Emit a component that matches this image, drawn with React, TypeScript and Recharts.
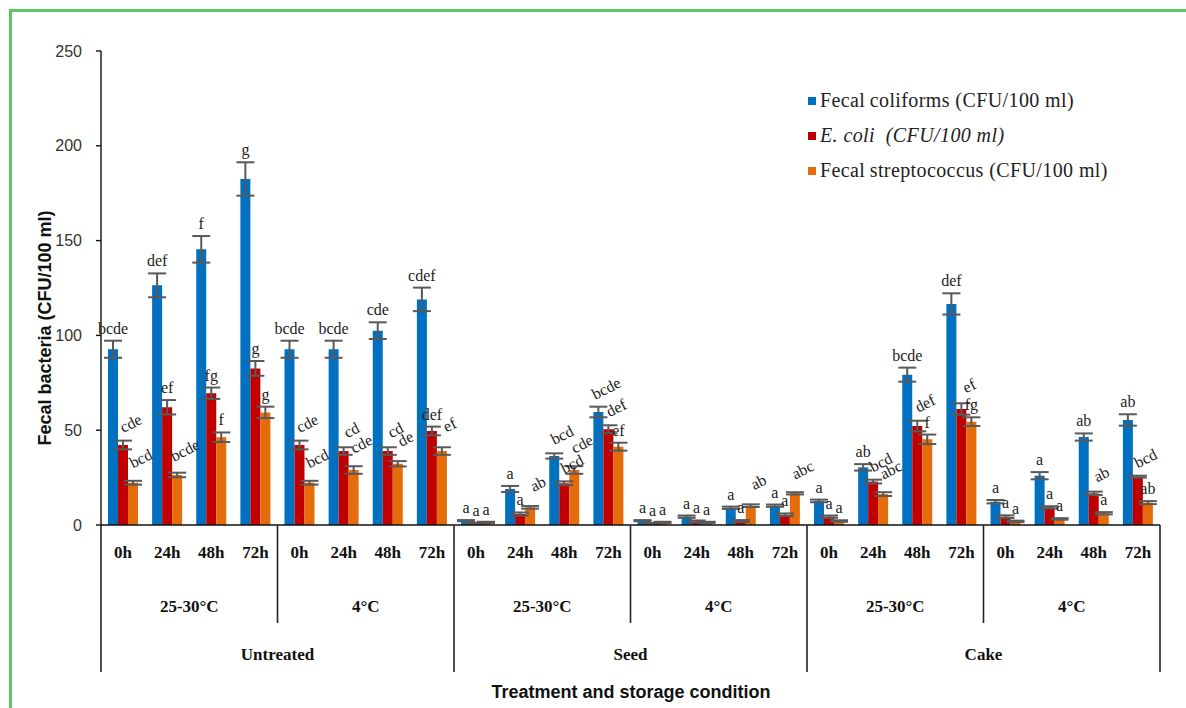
import { Bar, BarChart, ErrorBar, LabelList, Legend, XAxis, YAxis } from "recharts";

const times = ["0h", "24h", "48h", "72h"];
const temps = ["25-30°C", "4°C"];
const treatments = ["Untreated", "Seed", "Cake"];
const yTicks = [0, 50, 100, 150, 200, 250];

// Untreated 25-30 | Untreated 4 | Seed 25-30 | Seed 4 | Cake 25-30 | Cake 4
const fecalColiforms = [92.7, 126.4, 145.4, 182.5, 92.7, 92.7, 102.5, 119, 2.3, 19, 36.4, 59.6, 2.3, 4.4, 9.1, 10.2, 12.7, 30.4, 79.3, 116.6, 12.3, 26, 46.4, 55.4];
const fecalColiformsErr = [4.5, 6.3, 7, 8.8, 4.5, 4.5, 4.4, 6.2, 0.3, 1.6, 1.4, 2.8, 0.3, 0.6, 0.6, 0.6, 0.7, 1.7, 3.7, 5.6, 0.9, 1.9, 1.9, 3];
const eColi = [42.2, 62.1, 69.5, 82.6, 42.2, 39, 39, 49.6, 0.9, 5.8, 22, 50.5, 0.8, 1.9, 2.1, 5.4, 4.4, 22.9, 52.2, 61.2, 4.4, 9.3, 16.7, 25.5];
const eColiErr = [2.3, 3.8, 3, 3.9, 2.3, 2, 2, 2.3, 0.3, 0.8, 1, 2.1, 0.3, 0.5, 0.5, 0.7, 0.6, 1, 2.8, 3, 0.7, 0.6, 0.9, 0.5];
const fecalStrep = [22.3, 26.4, 46.3, 59.4, 22.3, 29, 32.3, 39, 1.4, 9.3, 29, 41.3, 1.4, 1.4, 10.2, 16.7, 2.1, 16.3, 45.2, 54.5, 1.9, 3.2, 6.2, 11.8];
const fecalStrepErr = [1, 1.2, 2.5, 3, 1, 2, 1.4, 2, 0.3, 0.7, 2, 2.1, 0.3, 0.3, 0.7, 0.6, 0.4, 1, 2.5, 2.3, 0.4, 0.4, 0.6, 0.8];

const fcLetters = ["bcde", "def", "f", "g", "bcde", "bcde", "cde", "cdef", "a", "a", "bcd", "bcde", "a", "a", "a", "a", "a", "ab", "bcde", "def", "a", "a", "ab", "ab"];
const ecLetters = ["cde", "ef", "fg", "g", "cde", "cd", "cd", "def", "a", "a", "bcd", "def", "a", "a", "a", "a", "a", "bcd", "def", "ef", "a", "a", "ab", "bcd"];
const fsLetters = ["bcd", "bcde", "f", "g", "bcd", "cde", "de", "ef", "a", "ab", "cde", "ef", "a", "a", "ab", "abc", "a", "abc", "f", "fg", "a", "a", "a", "ab"];

const data = fecalColiforms.map((fc, i) => ({
  k: i,
  fc,
  fcErr: fecalColiformsErr[i],
  ec: eColi[i],
  ecErr: eColiErr[i],
  fs: fecalStrep[i],
  fsErr: fecalStrepErr[i],
  fcL: fcLetters[i],
  ecL: ecLetters[i],
  fsL: fsLetters[i],
}));

const BLUE = "#0070C0";
const RED = "#C00000";
const ORANGE = "#E46C0A";
const SERIF = "'Liberation Serif', 'Times New Roman', serif";
const SANS = "'Liberation Sans', Arial, sans-serif";

const W = 1186;
const H = 708;
const PLOT_LEFT = 101;
const PLOT_RIGHT = 1160;
const BAND = (PLOT_RIGHT - PLOT_LEFT) / data.length;

// which letter labels are drawn slanted in the original
const tiltFc = [10, 11];
const tiltEc = [0, 4, 5, 6, 10, 11, 17, 18, 19, 22, 23];
const tiltFs = [0, 1, 4, 5, 6, 7, 9, 10, 14, 15, 17];

const letterLabel = (vals: number[], errs: number[], letters: string[], tilt: number[], lift: number) => (props: any) => {
  const { x, y, width, height, index } = props;
  const v = vals[index];
  const ppu = v > 0 ? Number(height) / v : 0;
  const top = Number(y) - errs[index] * ppu;
  const cx = Number(x) + Number(width) / 2;
  if (tilt.includes(index)) {
    const tx = cx + 8;
    const ty = top - lift;
    return (
      <text x={tx} y={ty} dy={5} textAnchor="middle" fontFamily={SERIF} fontSize={16} fill="#222" transform={`rotate(-27 ${tx} ${ty})`}>
        {letters[index]}
      </text>
    );
  }
  return (
    <text x={cx} y={top - 7} textAnchor="middle" fontFamily={SERIF} fontSize={16} fill="#222">
      {letters[index]}
    </text>
  );
};

function CategoryTick(props: any) {
  const { x, y, payload } = props;
  const i = Number(payload.value);
  const half = BAND / 2;
  const bold = { fontFamily: SERIF, fontWeight: 700, fontSize: 17, fill: "#111", textAnchor: "middle" as const };
  return (
    <g>
      <text x={x} y={y + 33} {...bold}>{times[i % 4]}</text>
      {i % 4 === 0 && (
        <line x1={x - half} x2={x - half} y1={y} y2={y + (i % 8 === 0 ? 147 : 98)} stroke="#222" strokeWidth={1.6} />
      )}
      {i === data.length - 1 && (
        <line x1={x + half} x2={x + half} y1={y} y2={y + 147} stroke="#222" strokeWidth={1.6} />
      )}
      {i % 4 === 1 && <text x={x + half} y={y + 87} {...bold}>{temps[Math.floor(i / 4) % 2]}</text>}
      {i % 8 === 3 && <text x={x + half} y={y + 135} {...bold}>{treatments[Math.floor(i / 8)]}</text>}
    </g>
  );
}

const legendItems = [
  { color: BLUE, text: "Fecal\u2009coliforms (CFU/100 ml)", italic: false },
  { color: RED, text: "E. coli  (CFU/100 ml)", italic: true },
  { color: ORANGE, text: "Fecal\u2009streptococcus (CFU/100 ml)", italic: false },
];

function LegendBox() {
  return (
    <div style={{ fontFamily: SERIF, fontSize: 20, color: "#222", letterSpacing: 0.4 }}>
      {legendItems.map((it) => (
        <div key={it.text} style={{ display: "flex", alignItems: "center", height: 35 }}>
          <span style={{ display: "inline-block", width: 8, height: 8, background: it.color, marginRight: 4 }} />
          <span style={{ fontStyle: it.italic ? "italic" : "normal", whiteSpace: "pre" }}>{it.text}</span>
        </div>
      ))}
    </div>
  );
}

export default function App() {
  return (
    <div style={{ position: "absolute", left: 0, top: 0, width: W, height: H, background: "#fff", overflow: "hidden" }}>
      <div style={{ position: "absolute", left: 9, top: 9, width: W + 40, height: H + 40, border: "3px solid #5CC866" }} />
      <div style={{ position: "absolute", left: 0, top: 0 }}>
        <BarChart width={W} height={H} data={data} margin={{ top: 51, right: W - PLOT_RIGHT, left: PLOT_LEFT - 60, bottom: 13 }} barGap={0} barSize={10}>
          <XAxis
            dataKey="k"
            height={170}
            interval={0}
            tickLine={false}
            tickSize={0}
            tickMargin={0}
            axisLine={{ stroke: "#111", strokeWidth: 1.6 }}
            tick={<CategoryTick />}
            label={() => (
              <text x={631} y={698} textAnchor="middle" fontFamily={SANS} fontWeight={700} fontSize={18} fill="#111">
                Treatment and storage condition
              </text>
            )}
          />
          <YAxis
            width={60}
            domain={[0, 250]}
            ticks={yTicks}
            interval={0}
            tickSize={5}
            tickMargin={14}
            axisLine={{ stroke: "#111", strokeWidth: 1.4 }}
            tickLine={{ stroke: "#111", strokeWidth: 1.4 }}
            tick={{ fill: "#333", fontSize: 16, fontFamily: SANS }}
            label={() => (
              <text x={45} y={328} dy={6} textAnchor="middle" fontFamily={SANS} fontWeight={700} fontSize={18} fill="#111" transform="rotate(-90 45 328)">
                Fecal bacteria  (CFU/100 ml)
              </text>
            )}
          />
          <Legend
            layout="vertical"
            align="center"
            verticalAlign="middle"
            content={<LegendBox />}
            wrapperStyle={{ top: 83, left: 808, width: 370, height: 110 }}
          />
          <Bar dataKey="fc" name="Fecal coliforms" fill={BLUE} isAnimationActive={false}>
            <ErrorBar dataKey="fcErr" width={9} stroke="#595959" strokeWidth={2} />
            <LabelList dataKey="fcL" content={letterLabel(fecalColiforms, fecalColiformsErr, fcLetters, tiltFc, 18)} />
          </Bar>
          <Bar dataKey="ec" name="E. coli" fill={RED} isAnimationActive={false}>
            <ErrorBar dataKey="ecErr" width={9} stroke="#595959" strokeWidth={2} />
            <LabelList dataKey="ecL" content={letterLabel(eColi, eColiErr, ecLetters, tiltEc, 17)} />
          </Bar>
          <Bar dataKey="fs" name="Fecal streptococcus" fill={ORANGE} isAnimationActive={false}>
            <ErrorBar dataKey="fsErr" width={9} stroke="#595959" strokeWidth={2} />
            <LabelList dataKey="fsL" content={letterLabel(fecalStrep, fecalStrepErr, fsLetters, tiltFs, 22)} />
          </Bar>
        </BarChart>
      </div>
    </div>
  );
}
